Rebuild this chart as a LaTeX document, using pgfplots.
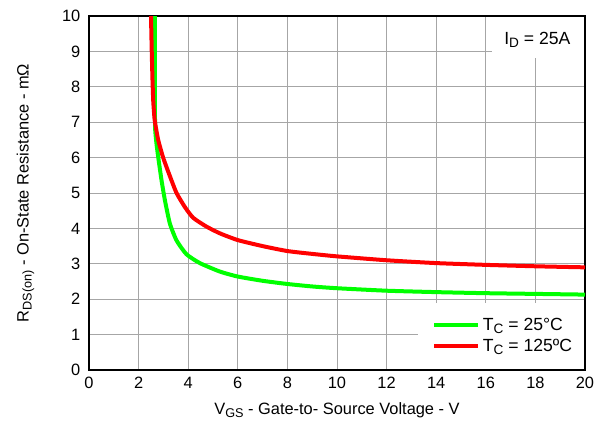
\documentclass[border=0pt]{standalone}
\usepackage{fontspec}
\setmainfont{Liberation Sans}
\usepackage{pgfplots}
\pgfplotsset{compat=1.18}

\definecolor{tcgreen}{RGB}{0,255,0}
\definecolor{tcred}{RGB}{255,0,0}
\newcommand{\sub}[1]{\raisebox{-0.35ex}{\fontsize{9.5}{10}\selectfont #1}}
\newcommand{\txt}{\fontsize{12.3}{14}\selectfont}
\newcommand{\leg}{\fontsize{13.2}{15}\selectfont}
\newcommand{\lsub}[1]{\raisebox{-0.35ex}{\fontsize{10.2}{11}\selectfont #1}}

\begin{document}
\begin{tikzpicture}
\path[use as bounding box] (-66.75pt,-42pt) rectangle (388.5pt,277.5pt);
\begin{axis}[
  at={(0,0)}, anchor=south west,
  scale only axis,
  width=372pt, height=265.5pt,
  xmin=0, xmax=20, ymin=0, ymax=10,
  xtick={0,2,...,20}, ytick={0,1,...,10},
  grid=major,
  grid style={draw=black!35, line width=0.7pt},
  axis line style={line width=1.8pt},
  major tick length=0pt,
  tick label style={font=\txt},
  /pgf/number format/assume math mode=true,
  xticklabel style={yshift=-2pt},
  yticklabel style={xshift=-3pt},
  label style={font=\txt},
  xlabel={V\sub{GS} - Gate-to- Source Voltage - V},
  ylabel={R\sub{DS(on)} - On-State Resistance - mΩ},
  xlabel style={yshift=-3pt},
  ylabel style={yshift=14pt},
  legend style={draw=none, fill=none, at={(axis cs:13.83,1.56)}, anchor=north west,
    font=\leg, row sep=1.5pt, inner sep=0pt},
  legend cell align=left,
  legend image code/.code={\draw[#1] (0pt,0pt) -- (27pt,0pt); \path (0pt,0pt) -- (33pt,0pt);},
]
\fill[white] (axis cs:16.25,8.8) rectangle (axis cs:19.95,9.97);
\fill[white] (axis cs:13.27,0.03) rectangle (axis cs:19.95,1.89);
\addplot[tcgreen, line width=3pt, line join=round, smooth, tension=0.35] coordinates {
  (2.66,10) (2.66,8) (2.66,7.2) (2.67,6.78) (2.72,6.4) (2.79,6.02)
  (2.92,5.38) (3.06,4.8) (3.26,4.14) (3.53,3.66) (3.93,3.27) (4.47,3.02)
  (5.28,2.78) (6,2.64) (7,2.52) (8,2.43) (9,2.36) (10,2.31) (12,2.24)
  (14,2.20) (16,2.17) (18,2.15) (20,2.13)
};
\addlegendentry{T\lsub{C} = 25°C}
\addplot[tcred, line width=3pt, line join=round, smooth, tension=0.35] coordinates {
  (2.50,10) (2.53,9) (2.56,8.2) (2.59,7.6) (2.63,7.2) (2.66,7.0)
  (2.79,6.5) (2.99,6.0) (3.26,5.48) (3.53,5.0) (3.87,4.6) (4.2,4.3)
  (4.74,4.05) (5.28,3.86) (6,3.67) (7,3.5) (8,3.36) (9,3.28) (10,3.21)
  (12,3.10) (14,3.02) (16,2.97) (18,2.93) (20,2.90)
};
\addlegendentry{T\lsub{C} = 125ºC}
\node[anchor=east, font=\leg] at (axis cs:19.6,9.32) {I\lsub{D} = 25A};
\end{axis}
\end{tikzpicture}
\end{document}
